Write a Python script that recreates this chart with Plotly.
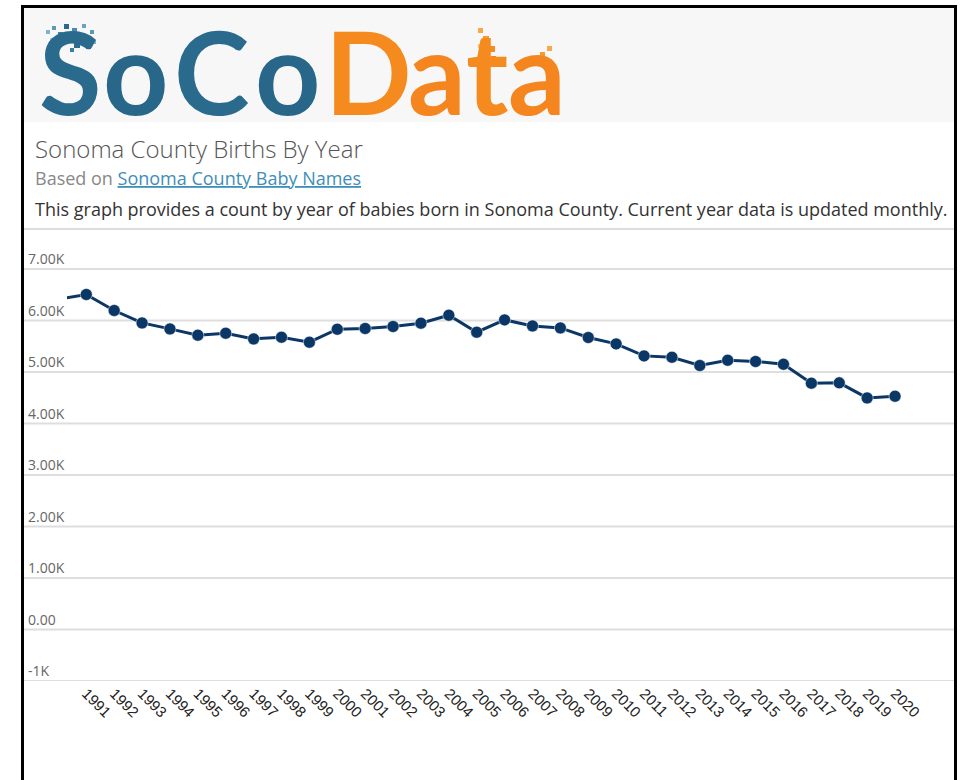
import plotly.graph_objects as go

# ---- data ----
years = list(range(1990, 2021))
births = [6414, 6505, 6194, 5953, 5837, 5715, 5753, 5643, 5676, 5579,
          5831, 5845, 5883, 5948, 6103, 5773, 6012, 5895, 5856, 5670,
          5546, 5313, 5287, 5126, 5229, 5204, 5151, 4783, 4789, 4497, 4530]
tick_years = list(range(1991, 2021))
tick_text = [str(y) for y in tick_years]
y_tick_vals = [7000, 6000, 5000, 4000, 3000, 2000, 1000, 0, -1000]
y_tick_text = ["7.00K", "6.00K", "5.00K", "4.00K", "3.00K", "2.00K", "1.00K", "0.00", "-1K"]

W, H = 962, 780
def P(x):
    return x / W
def Q(y):
    return 1 - y / H

fig = go.Figure()
fig.add_trace(go.Scatter(
    x=years, y=births, mode="lines+markers",
    line=dict(color="#0b3766", width=3),
    marker=dict(color="#0b3766", size=12, line=dict(color="#ffffff", width=0.5)),
    hoverinfo="x+y", showlegend=False,
))

shapes = []
# gray header band
shapes.append(dict(type="rect", xref="paper", yref="paper", x0=P(24), x1=P(954), y0=Q(122), y1=Q(8),
                   fillcolor="#f7f7f7", line=dict(width=0), layer="below"))
# logo pixel decoration
pix = [(46, 30, 4, "#7fb0cc"), (52, 26, 4, "#5d97ba"), (58, 32, 5, "#3f7ea3"), (64, 24, 5, "#2b6a8e"),
       (66, 36, 6, "#1e5a7d"), (72, 28, 5, "#4a89ad"), (74, 42, 6, "#2c6b8e"), (80, 34, 6, "#1c5577"),
       (82, 24, 4, "#6aa2c2"), (86, 44, 5, "#2c6b8e"), (90, 30, 4, "#5d97ba"), (60, 42, 4, "#8dbad3"),
       (70, 48, 4, "#3f7ea3"), (92, 40, 4, "#7fb0cc"), (50, 38, 3, "#a6c9dd"),
       (478, 28, 5, "#f7a84a"), (483, 36, 6, "#f59a2b"), (489, 46, 6, "#f38d22"), (491, 56, 5, "#f47f20"),
       (478, 44, 4, "#f9bf7a"), (540, 52, 5, "#f59a2b"), (547, 46, 5, "#f7a84a"), (545, 58, 4, "#f38d22")]
for (px, py, s, c) in pix:
    shapes.append(dict(type="rect", xref="paper", yref="paper", x0=P(px), x1=P(px + s),
                       y0=Q(py + s), y1=Q(py), fillcolor=c, line=dict(width=0)))
# frame
shapes.append(dict(type="line", xref="paper", yref="paper", x0=P(22.5), x1=P(22.5), y0=Q(5), y1=Q(790),
                   line=dict(color="#000000", width=3)))
shapes.append(dict(type="line", xref="paper", yref="paper", x0=P(955.5), x1=P(955.5), y0=Q(5), y1=Q(790),
                   line=dict(color="#000000", width=3)))
shapes.append(dict(type="line", xref="paper", yref="paper", x0=P(21), x1=P(957), y0=Q(6.5), y1=Q(6.5),
                   line=dict(color="#000000", width=3)))
# separator
shapes.append(dict(type="line", xref="paper", yref="paper", x0=P(24), x1=P(954), y0=Q(229), y1=Q(229),
                   line=dict(color="#dddddd", width=2)))
# gridlines
for v in y_tick_vals:
    shapes.append(dict(type="line", xref="paper", yref="y", x0=P(24), x1=P(954), y0=v, y1=v,
                       line=dict(color="#dedede", width=2), layer="below"))

annotations = []
for v, t in zip(y_tick_vals, y_tick_text):
    annotations.append(dict(xref="paper", yref="y", x=P(27), y=v, text=t, showarrow=False,
                            xanchor="left", yanchor="bottom", borderpad=0, yshift=0,
                            font=dict(family="Open Sans", size=14, color="#666666")))

# logo (letter by letter to follow the logo's wide spacing)
logo_letters = [("S", 70, "#2a6a8d"), ("o", 136, "#286789"), ("C", 211, "#2a6a8d"), ("o", 288, "#286789"),
                ("D", 368, "#f58a1f"), ("a", 437, "#f5861f"), ("t", 487, "#f58a1f"), ("a", 537, "#f5861f")]
for ch, cx, col in logo_letters:
    annotations.append(dict(xref="paper", yref="paper", x=P(cx), y=Q(0.5), xanchor="center", yanchor="top",
                            showarrow=False, text=ch, borderpad=0,
                            font=dict(family="Lato", size=114, weight="bold", color=col)))
# titles
annotations.append(dict(xref="paper", yref="paper", x=P(33), y=Q(148.5), xanchor="left", yanchor="middle",
                        showarrow=False, text="Sonoma County Births By Year",
                        font=dict(family="Open Sans", size=24, color="#555555", weight=300)))
annotations.append(dict(xref="paper", yref="paper", x=P(33), y=Q(178), xanchor="left", yanchor="middle",
                        showarrow=False,
                        text='Based on <span style="color:#3d8eb9;text-decoration:underline">Sonoma County Baby Names</span>',
                        font=dict(family="Open Sans", size=18, color="#888888")))
annotations.append(dict(xref="paper", yref="paper", x=P(33), y=Q(209), xanchor="left", yanchor="middle",
                        showarrow=False,
                        text="This graph provides a count by year of babies born in Sonoma County. Current year data is updated monthly.",
                        font=dict(family="Open Sans", size=18, color="#333333")))

x_left = 1991 - (86.3 - 67) / 27.9
x_right = 2020 + (954 - 895) / 27.9

fig.update_layout(
    width=W, height=H,
    margin=dict(l=0, r=0, t=0, b=0),
    paper_bgcolor="#ffffff", plot_bgcolor="rgba(0,0,0,0)",
    shapes=shapes, annotations=annotations,
    xaxis=dict(domain=[P(67), P(954)], range=[x_left, x_right], showgrid=False, zeroline=False,
               tickmode="array", tickvals=tick_years, ticktext=tick_text, tickangle=45,
               ticks="", showline=False,
               tickfont=dict(family="Liberation Sans", size=15, color="#222222")),
    yaxis=dict(domain=[Q(681), Q(243.25)], range=[-1000, 7500], showgrid=False, zeroline=False,
               showticklabels=False, ticks=""),
)

fig.write_html("out.html", config={"displayModeBar": False},
               post_script="document.body.style.margin='0';")
